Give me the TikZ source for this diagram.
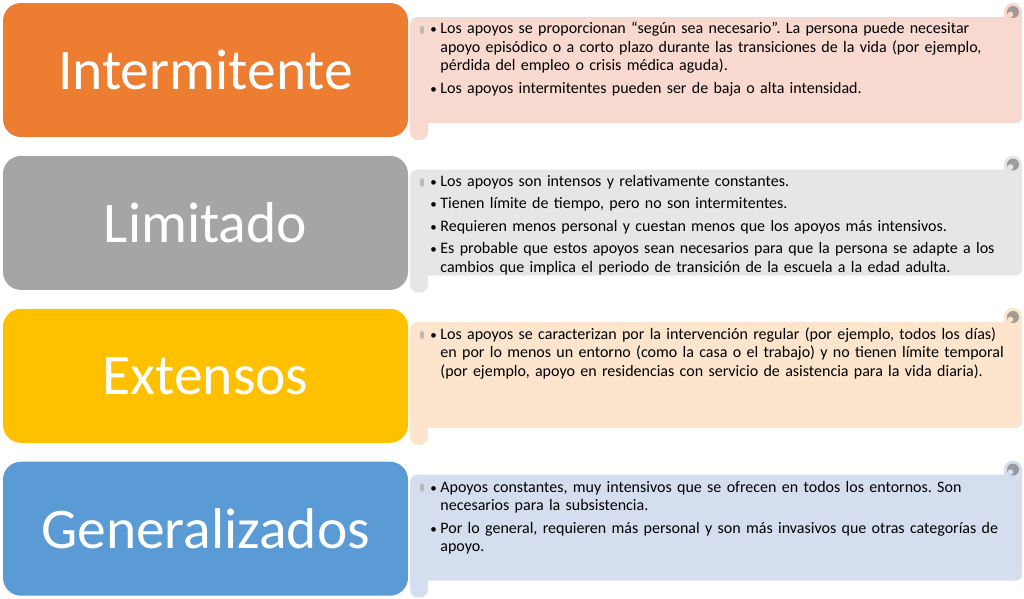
\documentclass[tikz,border=0pt]{standalone}
\usepackage{fontspec}
\setmainfont{Carlito}
\usetikzlibrary{positioning}
\definecolor{BoxOrange}{HTML}{ED7D31}
\definecolor{BoxGray}{HTML}{A5A5A5}
\definecolor{BoxGold}{HTML}{FFC000}
\definecolor{BoxBlue}{HTML}{5B9BD5}
\definecolor{ScrollOrange}{HTML}{F8D9CF}
\definecolor{ScrollGray}{HTML}{E6E6E6}
\definecolor{ScrollGold}{HTML}{FCE5CC}
\definecolor{ScrollBlue}{HTML}{D5DEEF}
\newcommand{\bitem}[1]{\par\hangindent=10pt\hangafter=1\noindent\makebox[10pt][l]{\fontsize{13}{13}\selectfont\textbullet}#1\par}
% scroll background, #1 = top of the row, #2 = fill colour
\newcommand{\scrollbg}[2]{%
    \fill[#2, rounded corners=6pt] (412,#1+14) rectangle (1022,#1+120);
    \fill[#2, rounded corners=8pt] (410,#1+14) rectangle (428,#1+137);
    \fill[#2] (1004,#1+9) rectangle (1022,#1+20);
    \fill[#2] (1013,#1+9) circle (9);
    \fill[#2!45!black!65] (1013,#1+9) circle (6);
    \fill[#2] (1010.5,#1+11.5) circle (2.8);
    \fill[#2!50!black!50] (422,#1+27) ellipse (2.2 and 4.5);
}

\begin{document}
\begin{tikzpicture}[x=1pt, y=-1pt,
    label/.style={rectangle, rounded corners=18pt, minimum width=405pt, minimum height=134pt,
                  text=white, font=\fontsize{57.5}{60}\selectfont, inner sep=0pt},
    txt/.style={anchor=north west, text width=620pt, align=left, inner sep=0pt,
                font=\fontsize{16}{18.5}\selectfont,
                execute at begin node={\frenchspacing\setlength{\parskip}{4pt}}}
]
    \useasboundingbox (0,0) rectangle (1024,598);

    % scrolls
    \scrollbg{3}{ScrollOrange}
    \scrollbg{155.5}{ScrollGray}
    \scrollbg{308}{ScrollGold}
    \scrollbg{460.5}{ScrollBlue}

    % category boxes
    \node[label, fill=BoxOrange] (intermitente) at (205.5,70) {Intermitente};
    \node[label, fill=BoxGray, below=18.5pt of intermitente] (limitado) {Limitado};
    \node[label, fill=BoxGold, below=18.5pt of limitado] (extensos) {Extensos};
    \node[label, fill=BoxBlue, below=18.5pt of extensos] (generalizados) {Generalizados};

    % descriptions
    \node[txt] (intTxt) at ([xshift=22pt, yshift=-8pt]intermitente.north east) {%
        \bitem{Los apoyos se proporcionan “según sea necesario". La persona puede necesitar\newline
        apoyo episódico o a corto plazo durante las transiciones de la vida (por ejemplo,\newline
        pérdida del empleo o crisis médica aguda).}
        \bitem{Los apoyos intermitentes pueden ser de baja o alta intensidad.}};

    \node[txt] (limTxt) at ([xshift=22pt, yshift=-8pt]limitado.north east) {%
        \bitem{Los apoyos son intensos y relativamente constantes.}
        \bitem{Tienen límite de tiempo, pero no son intermitentes.}
        \bitem{Requieren menos personal y cuestan menos que los apoyos más intensivos.}
        \bitem{Es probable que estos apoyos sean necesarios para que la persona se adapte a los\newline
        cambios que implica el periodo de transición de la escuela a la edad adulta.}};

    \node[txt] (extTxt) at ([xshift=22pt, yshift=-8pt]extensos.north east) {%
        \bitem{Los apoyos se caracterizan por la intervención regular (por ejemplo, todos los días)\newline
        en por lo menos un entorno (como la casa o el trabajo) y no tienen límite temporal\newline
        (por ejemplo, apoyo en residencias con servicio de asistencia para la vida diaria).}};

    \node[txt] (genTxt) at ([xshift=22pt, yshift=-8pt]generalizados.north east) {%
        \bitem{Apoyos constantes, muy intensivos que se ofrecen en todos los entornos. Son\newline
        necesarios para la subsistencia.}
        \bitem{Por lo general, requieren más personal y son más invasivos que otras categorías de\newline
        apoyo.}};
\end{tikzpicture}
\end{document}
